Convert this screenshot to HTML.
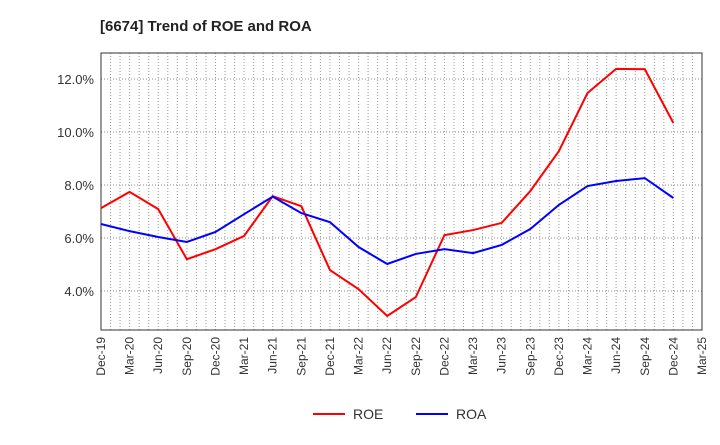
<!DOCTYPE html>
<html><head><meta charset="utf-8"><style>
body{margin:0;background:#fff;font-family:"Liberation Sans",sans-serif}
</style></head><body>
<svg id="c" width="720" height="440" xmlns="http://www.w3.org/2000/svg">
<text x="100" y="31" font-size="15" font-weight="bold" fill="#222">[6674]  Trend of ROE and ROA</text>
<g id="grid"></g><g id="axes"></g><g id="series"></g>
<g>
<line x1="313" y1="414" x2="345" y2="414" stroke="#f00" stroke-width="2"/>
<text x="353" y="419" font-size="14" fill="#333">ROE</text>
<line x1="416" y1="414" x2="448" y2="414" stroke="#00f" stroke-width="2"/>
<text x="456" y="419" font-size="14" fill="#333">ROA</text>
</g>
</svg>
<script>
const categories=["Dec-19","Mar-20","Jun-20","Sep-20","Dec-20","Mar-21","Jun-21","Sep-21","Dec-21","Mar-22","Jun-22","Sep-22","Dec-22","Mar-23","Jun-23","Sep-23","Dec-23","Mar-24","Jun-24","Sep-24","Dec-24","Mar-25"];
const roe=[7.13,7.74,7.09,5.2,5.58,6.08,7.58,7.2,4.79,4.07,3.06,3.77,6.11,6.3,6.57,7.77,9.28,11.47,12.38,12.37,10.34];
const roa=[6.53,6.26,6.04,5.85,6.23,6.9,7.56,6.94,6.6,5.66,5.02,5.4,5.58,5.43,5.74,6.34,7.25,7.96,8.15,8.26,7.51];
const yTicks=[4,6,8,10,12];
const NS="http://www.w3.org/2000/svg";
const L=101,R=702,T=53,B=330,yMin=2.53,yMax=12.98;
const x=i=>L+i*(R-L)/(categories.length-1);
const y=v=>B-(v-yMin)/(yMax-yMin)*(B-T);
function mk(tag,at,parent){const e=document.createElementNS(NS,tag);for(const k in at)e.setAttribute(k,at[k]);document.getElementById(parent).appendChild(e);return e;}
for(let m=1;m<(categories.length-1)*3;m++){const xx=L+m*(R-L)/((categories.length-1)*3);
const g=mk('line',{x1:xx,x2:xx,y1:T,y2:B,stroke:'#999','stroke-dasharray':'1,2','stroke-width':1},'grid');

}
yTicks.forEach(v=>{const g=mk('line',{x1:L,x2:R,y1:y(v),y2:y(v),stroke:'#888','stroke-dasharray':'1,2'},'grid');


const t=mk('text',{x:L-7,y:y(v)+5,'text-anchor':'end','font-size':13,fill:'#333'},'axes');t.textContent=v.toFixed(1)+'%';

});
const fr=mk('rect',{x:L,y:T,width:R-L,height:B-T,fill:'none',stroke:'#333'},'axes');


categories.forEach((c,i)=>{const t=mk('text',{x:0,y:0,'text-anchor':'end','font-size':12,fill:'#333',transform:`translate(${x(i)+4},${B+7}) rotate(-90)`},'axes');t.textContent=c;

});
[[roe,'#f00','roe-line'],[roa,'#00f','roa-line']].forEach(([d,c,n])=>{const p=mk('polyline',{points:d.map((v,i)=>x(i)+','+y(v)).join(' '),fill:'none',stroke:c,'stroke-width':2},'series');

});
</script>
</body></html>
